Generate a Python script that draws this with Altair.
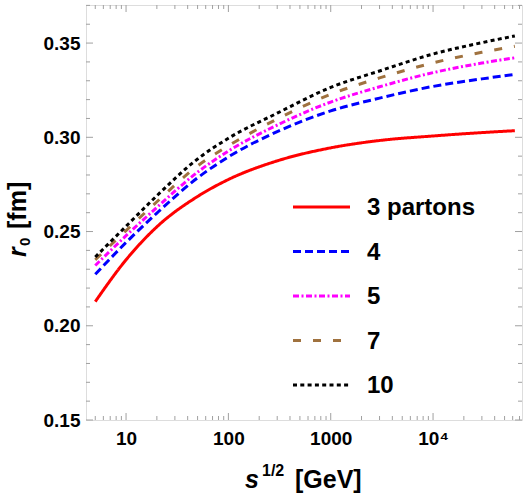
import altair as alt
import pandas as pd

# sqrt(s) in GeV and r0 in fm for each number of partons
sqrt_s = [5, 10, 20, 50, 100, 300, 1000, 3000, 10000, 30000, 63000]
r0_3 = [0.2128, 0.2350, 0.2525, 0.2686, 0.2776, 0.2875, 0.2944, 0.2983, 0.3007, 0.3025, 0.3035]
r0_4 = [0.2273, 0.2442, 0.2598, 0.2785, 0.2896, 0.3030, 0.3140, 0.3208, 0.3270, 0.3310, 0.3334]
r0_5 = [0.2320, 0.2478, 0.2628, 0.2815, 0.2927, 0.3065, 0.3187, 0.3268, 0.3343, 0.3394, 0.3422]
r0_7 = [0.2350, 0.2505, 0.2658, 0.2848, 0.2955, 0.3097, 0.3228, 0.3315, 0.3395, 0.3451, 0.3483]
r0_10 = [0.2365, 0.2528, 0.2690, 0.2885, 0.2995, 0.3128, 0.3265, 0.3352, 0.3442, 0.3502, 0.3538]

series = ["3 partons", "4", "5", "7", "10"]
colors = ["#ff0000", "#0000ff", "#ff00ff", "#a0723f", "#000000"]
dashes = [[1, 0], [8, 4], [6, 2.5, 2, 2.5], [8, 12], [4, 3.3]]

x_major = [10, 100, 1000, 10000]
x_minor = sorted(m * d for d in [1, 10, 100, 1000, 10000] for m in range(2, 10)
                 if 4.06 <= m * d <= 74000)
y_major = [0.15, 0.20, 0.25, 0.30, 0.35]
y_minor = [round(0.15 + 0.01 * i, 2) for i in range(23)]
y_minor = [v for v in y_minor if v not in y_major]

W, H = 436, 415
FRAME = "#a0a0a0"
FONT = "Liberation Sans"

rows = []
for name, vals in zip(series, [r0_3, r0_4, r0_5, r0_7, r0_10]):
    for s, r in zip(sqrt_s, vals):
        rows.append({"series": name, "s": s, "r": r})
df = pd.DataFrame(rows)

xscale = alt.Scale(type="log", domain=[4.06, 74000], nice=False)
yscale = alt.Scale(domain=[0.15, 0.3702], nice=False, zero=False)

x_axis = alt.Axis(values=x_major, ticks=False, domain=False, grid=False, title=None,
                  labelExpr="datum.value == 10000 ? '10⁴' : format(datum.value, 'd')",
                  labelPadding=9, labelFont=FONT, labelFontSize=19, labelFontWeight="bold",
                  labelColor="black")
y_axis = alt.Axis(values=y_major, ticks=False, domain=False, grid=False, title=None,
                  format=".2f", labelPadding=6, labelFont=FONT, labelFontSize=19,
                  labelFontWeight="bold", labelColor="black")

curves = alt.Chart(df).mark_line(strokeWidth=3, interpolate="monotone").encode(
    x=alt.X("s:Q", scale=xscale, axis=x_axis),
    y=alt.Y("r:Q", scale=yscale, axis=y_axis),
    color=alt.Color("series:N", scale=alt.Scale(domain=series, range=colors), legend=None),
    strokeDash=alt.StrokeDash("series:N", scale=alt.Scale(domain=series, range=dashes), legend=None),
    detail="series:N",
)


def x_ticks(vals, length):
    base = alt.Chart(pd.DataFrame({"v": vals})).mark_rule(color=FRAME, strokeWidth=1)
    enc = dict(x=alt.X("v:Q", scale=xscale, axis=x_axis))
    return [base.encode(y=alt.value(H), y2=alt.value(H - length), **enc),
            base.encode(y=alt.value(0), y2=alt.value(length), **enc)]


def y_ticks(vals, length):
    base = alt.Chart(pd.DataFrame({"v": vals})).mark_rule(color=FRAME, strokeWidth=1)
    enc = dict(y=alt.Y("v:Q", scale=yscale, axis=y_axis))
    return [base.encode(x=alt.value(0), x2=alt.value(length), **enc),
            base.encode(x=alt.value(W), x2=alt.value(W - length), **enc)]


ticks = x_ticks(x_major, 7) + x_ticks(x_minor, 4) + y_ticks(y_major, 7) + y_ticks(y_minor, 4)

one = pd.DataFrame({"k": [0]})


def label(text, x, y, size, style="normal", angle=0, align="left"):
    return alt.Chart(one).mark_text(
        text=text, font=FONT, fontSize=size, fontWeight="bold", fontStyle=style,
        angle=angle, align=align, baseline="alphabetic", color="black",
    ).encode(x=alt.value(x), y=alt.value(y))


# legend: line sample plus label per series
legend = []
for i, (name, col, dash) in enumerate(zip(series, colors, dashes)):
    yy = 202 + 44.5 * i
    legend.append(alt.Chart(one).mark_rule(color=col, strokeWidth=3, strokeDash=dash).encode(
        x=alt.value(207), x2=alt.value(264), y=alt.value(yy)))
    legend.append(alt.Chart(one).mark_text(
        text=name, font=FONT, fontSize=24, fontWeight="bold", align="left",
        baseline="middle", color="black").encode(x=alt.value(281), y=alt.value(yy + 1)))

titles = [
    label("s", 159, 483, 25, style="italic"),
    label("1/2", 176, 471, 16),
    label("[GeV]", 209, 483, 25),
    label("r", -60, 252, 25, style="italic", angle=270),
    label("0", -56, 241, 15, angle=270),
    label("[fm]", -60, 224, 25, angle=270),
]

chart = alt.layer(curves, *ticks, *legend, *titles).properties(
    width=W, height=H,
    autosize=alt.AutoSizeParams(type="none"),
    padding={"left": 86, "top": 5, "right": 3, "bottom": 74},
).configure_view(stroke=FRAME, strokeWidth=1).configure(background="white")

chart.save("out.html", embed_options={"renderer": "svg", "actions": False})
